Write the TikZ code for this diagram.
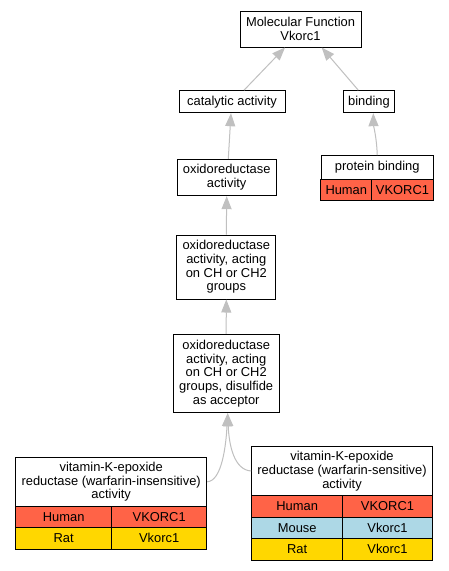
\documentclass[tikz,border=0pt]{standalone}
\usepackage{fontspec}
\setmainfont{Liberation Sans}
\usetikzlibrary{arrows.meta}
\definecolor{human}{HTML}{FF6347}
\definecolor{mouse}{HTML}{ADD8E6}
\definecolor{rat}{HTML}{FFD700}
\definecolor{edgegray}{HTML}{C0C0C0}
\begin{document}
\begin{tikzpicture}[x=1pt,y=-1pt,
  box/.style={draw=black,line width=1pt,fill=white,inner sep=0pt,align=center,
    font=\fontsize{12.9}{13.7}\selectfont},
  cell/.style={box,fill=#1},
  edge/.style={draw=edgegray,line width=1pt,-{Triangle[length=13pt,width=10pt]}}]
\fill[white] (0,0) rectangle (449,571);
\useasboundingbox (0,0) rectangle (449,571);
% nodes
\node[box,minimum width=121pt,minimum height=36pt] (mf) at (300.5,29) {Molecular Function\\Vkorc1};
\node[box,minimum width=106pt,minimum height=22pt] (cat) at (232,101.7) {catalytic activity};
\node[box,minimum width=51pt,minimum height=22pt] (bind) at (369,101.7) {binding};
\node[box,minimum width=112.3pt,minimum height=23.6pt] (pbh) at (377.2,167.5) {protein binding};
\node[cell=human,minimum width=50.7pt,minimum height=20.7pt] (pbhu) at (346.3,189.7) {Human};
\node[cell=human,minimum width=61.6pt,minimum height=20.7pt] (pbhv) at (402.5,189.7) {VKORC1};
\node[box,minimum width=98.7pt,minimum height=36.4pt] (ox) at (226.7,177.5) {oxidoreductase\\activity};
\node[box,minimum width=99.3pt,minimum height=64pt] (och) at (226.3,267) {oxidoreductase\\activity, acting\\on CH or CH2\\groups};
\node[box,minimum width=105.7pt,minimum height=78.4pt] (dis) at (226.2,373.5) {oxidoreductase\\activity, acting\\on CH or CH2\\groups, disulfide\\as acceptor};
% insensitive table
\node[box,minimum width=191pt,minimum height=49pt] (insh) at (111.2,481.8) {vitamin-K-epoxide\\reductase (warfarin-insensitive)\\activity};
\node[cell=human,minimum width=96pt,minimum height=21.4pt] (inshu) at (63.7,517) {Human};
\node[cell=human,minimum width=95pt,minimum height=21.4pt] (inshv) at (159.2,517) {VKORC1};
\node[cell=rat,minimum width=96pt,minimum height=21.3pt] (insra) at (63.7,538.35) {Rat};
\node[cell=rat,minimum width=95pt,minimum height=21.3pt] (insrv) at (159.2,538.35) {Vkorc1};
% sensitive table
\node[box,minimum width=180.6pt,minimum height=48.6pt] (senh) at (342,471) {vitamin-K-epoxide\\reductase (warfarin-sensitive)\\activity};
\node[cell=human,minimum width=91pt,minimum height=21.7pt] (senhu) at (297.2,506.15) {Human};
\node[cell=human,minimum width=89.6pt,minimum height=21.7pt] (senhv) at (387.5,506.15) {VKORC1};
\node[cell=mouse,minimum width=91pt,minimum height=21.7pt] (senmo) at (297.2,527.85) {Mouse};
\node[cell=mouse,minimum width=89.6pt,minimum height=21.7pt] (senmv) at (387.5,527.85) {Vkorc1};
\node[cell=rat,minimum width=91pt,minimum height=21.3pt] (senra) at (297.2,549.35) {Rat};
\node[cell=rat,minimum width=89.6pt,minimum height=21.3pt] (senrv) at (387.5,549.35) {Vkorc1};
% edges
\draw[edge] ([xshift=12pt]cat.north) -- ([xshift=-15.5pt]mf.south);
\draw[edge] ([xshift=-10.7pt]bind.north) -- ([xshift=21.2pt]mf.south);
\draw[edge] ([xshift=1.6pt]ox.north) -- ([xshift=-1pt]cat.south);
\draw[edge] (pbh.north) .. controls (377,140) and (373.5,125) .. ([xshift=4.3pt]bind.south);
\draw[edge] (och.north) -- (ox.south);
\draw[edge] (dis.north) -- (och.south);
\draw[edge] (insh.east) .. controls (222,481) and (226,445) .. ([xshift=1.5pt]dis.south);
\draw[edge] (senh.west) .. controls (234,470) and (229,445) .. ([xshift=1.5pt]dis.south);
\end{tikzpicture}
\end{document}
